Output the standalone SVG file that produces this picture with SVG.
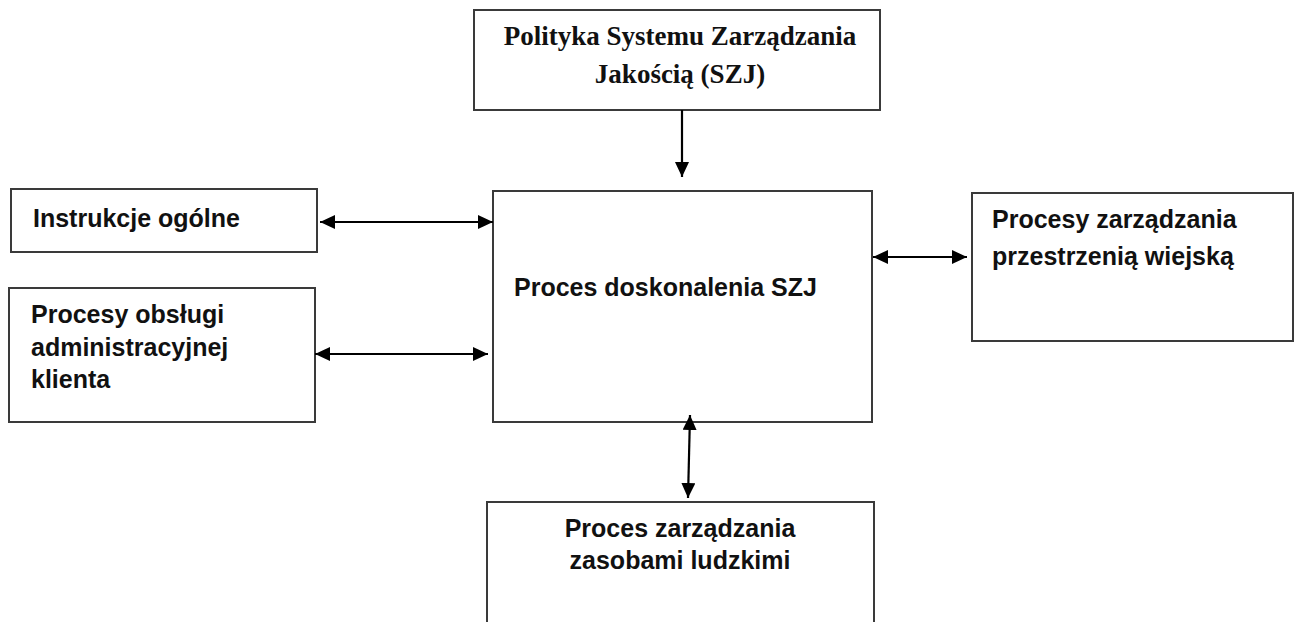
<svg xmlns="http://www.w3.org/2000/svg" width="1296" height="622" viewBox="0 0 1296 622">
<style>
.box{fill:#fff;stroke:#3a3a3a;stroke-width:2}
.t{font-family:"Liberation Sans",Arial,sans-serif;font-weight:bold;font-size:25px;fill:#111}
.tt{font-family:"Liberation Serif","Times New Roman",serif;font-weight:bold;font-size:27px;fill:#111;text-anchor:middle}
.c{text-anchor:middle}
.ln{stroke:#000;stroke-width:2.2;fill:none}
.dbl{marker-start:url(#ah);marker-end:url(#ah)}
.one{marker-end:url(#ah)}
</style>
<defs>
<marker id="ah" viewBox="0 0 15 14" refX="15" refY="7" markerWidth="15" markerHeight="14" markerUnits="userSpaceOnUse" orient="auto-start-reverse">
<path d="M0,0 L15,7 L0,14 z" fill="#000"/>
</marker>
</defs>
<rect width="1296" height="622" fill="#fff"/>
<g id="polityka">
<rect class="box" x="474" y="10" width="406" height="100"/>
<text class="tt" x="680" y="45">Polityka Systemu Zarządzania</text>
<text class="tt" x="680" y="83">Jakością (SZJ)</text>
</g>
<g id="instrukcje">
<rect class="box" x="11" y="189" width="306" height="63"/>
<text class="t" x="33" y="227">Instrukcje ogólne</text>
</g>
<g id="obsluga">
<rect class="box" x="9" y="288" width="306" height="134"/>
<text class="t" x="31" y="323">Procesy obsługi</text>
<text class="t" x="31" y="356">administracyjnej</text>
<text class="t" x="31" y="388">klienta</text>
</g>
<g id="doskonalenie">
<rect class="box" x="493" y="191" width="379" height="231"/>
<text class="t" x="514" y="296">Proces doskonalenia SZJ</text>
</g>
<g id="przestrzen">
<rect class="box" x="972" y="193" width="321" height="148"/>
<text class="t" x="992" y="228">Procesy zarządzania</text>
<text class="t" x="992" y="265">przestrzenią wiejską</text>
</g>
<g id="zasoby">
<rect class="box" x="487" y="502" width="387" height="130"/>
<text class="t c" x="680" y="537">Proces zarządzania</text>
<text class="t c" x="680" y="569">zasobami ludzkimi</text>
</g>
<g id="connectors">
<line class="ln one" x1="682" y1="110" x2="682" y2="177"/>
<line class="ln dbl" x1="320" y1="222" x2="493" y2="222"/>
<line class="ln dbl" x1="315" y1="354" x2="488" y2="354"/>
<line class="ln dbl" x1="873" y1="257" x2="967" y2="257"/>
<line class="ln dbl" x1="690" y1="415" x2="688" y2="498"/>
</g>
</svg>
